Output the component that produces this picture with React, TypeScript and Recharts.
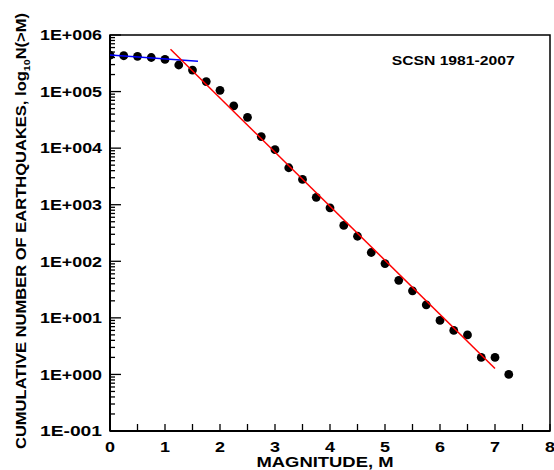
import React from 'react';
import { ScatterChart, Scatter, XAxis, YAxis, Label, ReferenceArea } from 'recharts';

const magnitudes = [0, 0.25, 0.5, 0.75, 1.0, 1.25, 1.5, 1.75, 2.0, 2.25, 2.5, 2.75, 3.0, 3.25, 3.5, 3.75, 4.0, 4.25, 4.5, 4.75, 5.0, 5.25, 5.5, 5.75, 6.0, 6.25, 6.5, 6.75, 7.0, 7.25];
const counts = [440000, 430000, 420000, 400000, 370000, 295000, 240000, 150000, 105000, 56000, 35000, 16000, 9400, 4500, 2800, 1350, 880, 430, 277, 143, 91, 46, 30, 17, 9, 6, 5, 2, 2, 1];
const redFitM = [1.1, 7.0];
const redFitN = [558000, 1.27];
const blueFitM = [0, 1.6];
const blueFitN = [444000, 344000];
const xTicks = [0, 0.5, 1, 1.5, 2, 2.5, 3, 3.5, 4, 4.5, 5, 5.5, 6, 6.5, 7, 7.5, 8];
const yDecades = [-1, 0, 1, 2, 3, 4, 5];
const yTitle = 'CUMULATIVE NUMBER OF EARTHQUAKES, log';
const annotation = 'SCSN 1981-2007';
const xTitle = 'MAGNITUDE, M';

const FONT = '"Liberation Sans", Arial, sans-serif';

const yTicks: number[] = [];
yDecades.forEach((d) => {
  for (let k = 1; k <= 9; k++) yTicks.push(k * Math.pow(10, d));
});
yTicks.push(1e6);

const points = magnitudes.map((m, i) => ({ m, n: counts[i] }));
const redLine = redFitM.map((m, i) => ({ m, n: redFitN[i] }));
const blueLine = blueFitM.map((m, i) => ({ m, n: blueFitN[i] }));

const fmtExp = (v: number) => {
  const e = Math.round(Math.log10(v));
  const s = e >= 0 ? '+' : '-';
  return '1E' + s + String(Math.abs(e)).padStart(3, '0');
};

const YTick = (props: any) => {
  const { x, y, payload } = props;
  const v = payload.value;
  const lg = Math.log10(v);
  const major = Math.abs(lg - Math.round(lg)) < 1e-6;
  return (
    <g>
      <line x1={x} x2={x + (major ? 11 : 5)} y1={y} y2={y} stroke="#000" strokeWidth={1.3} />
      {major && (
        <text x={x - 8} y={y + 5.3} textAnchor="end" fontFamily={FONT} fontWeight="bold" fontSize={15}
          textLength={62} lengthAdjust="spacingAndGlyphs" fill="#000">
          {fmtExp(v)}
        </text>
      )}
    </g>
  );
};

const XTick = (props: any) => {
  const { x, y, payload } = props;
  const v = payload.value;
  const isInt = Math.abs(v - Math.round(v)) < 1e-9;
  return (
    <g>
      <line x1={x} x2={x} y1={y} y2={y - 7} stroke="#000" strokeWidth={1.3} />
      {isInt && (
        <text x={x} y={y + 21} textAnchor="middle" fontFamily={FONT} fontWeight="bold" fontSize={15}
          textLength={10} lengthAdjust="spacingAndGlyphs" fill="#000">
          {String(v)}
        </text>
      )}
    </g>
  );
};

const Dot = (p: any) => <circle cx={p.cx} cy={p.cy} r={4.4} fill="#000" />;
const NoShape = () => <g />;

export default function App() {
  return (
    <div style={{ position: 'absolute', left: 0, top: 0 }}>
      <ScatterChart width={554} height={470} margin={{ top: 35, right: 4, bottom: 0, left: 0 }}>
        <XAxis dataKey="m" type="number" domain={[0, 8]} ticks={xTicks} interval={0} tick={<XTick />}
          tickLine={false} tickSize={0} tickMargin={0} height={39}
          axisLine={{ stroke: '#000', strokeWidth: 2 }} allowDataOverflow>
          <Label content={(p: any) => {
            const vb = p.viewBox;
            return (
              <text x={vb.x + vb.width / 2 - 5} y={466.5} textAnchor="middle" fontFamily={FONT} fontWeight="bold"
                fontSize={14.5} textLength={137} lengthAdjust="spacingAndGlyphs" fill="#000">{xTitle}</text>
            );
          }} />
        </XAxis>
        <YAxis dataKey="n" type="number" scale="log" domain={[0.1, 1e6]} ticks={yTicks} interval={0}
          tick={<YTick />} tickLine={false} tickSize={0} tickMargin={0} width={110}
          axisLine={{ stroke: '#000', strokeWidth: 2 }} allowDataOverflow>
          <Label content={(p: any) => {
            const vb = p.viewBox;
            const cx = 26;
            const cy = vb.y + vb.height / 2 - 2;
            return (
              <text x={cx} y={cy} transform={`rotate(-90, ${cx}, ${cy})`} textAnchor="middle" fontFamily={FONT}
                fontWeight="bold" fontSize={14} textLength={436} lengthAdjust="spacingAndGlyphs" fill="#000">
                {yTitle}
                <tspan fontSize={9} dy={4}>10</tspan>
                <tspan dy={-4}>N(&gt;M)</tspan>
              </text>
            );
          }} />
        </YAxis>
        <ReferenceArea x1={0} x2={8} y1={0.1} y2={1e6} fill="none" fillOpacity={0} stroke="#000" strokeWidth={1.5}
          strokeOpacity={1}>
          <Label content={(p: any) => {
            const vb = p.viewBox;
            return (
              <text x={vb.x + vb.width * 0.78} y={vb.y + 30} textAnchor="middle" fontFamily={FONT} fontWeight="bold"
                fontSize={12} textLength={123} lengthAdjust="spacingAndGlyphs" fill="#000">{annotation}</text>
            );
          }} />
        </ReferenceArea>
        <Scatter data={points} shape={<Dot />} isAnimationActive={false} />
        <Scatter data={blueLine} shape={<NoShape />} line={{ stroke: '#0000ff', strokeWidth: 1.5 }} isAnimationActive={false} />
        <Scatter data={redLine} shape={<NoShape />} line={{ stroke: '#ff0000', strokeWidth: 1.5 }} isAnimationActive={false} />
      </ScatterChart>
    </div>
  );
}
